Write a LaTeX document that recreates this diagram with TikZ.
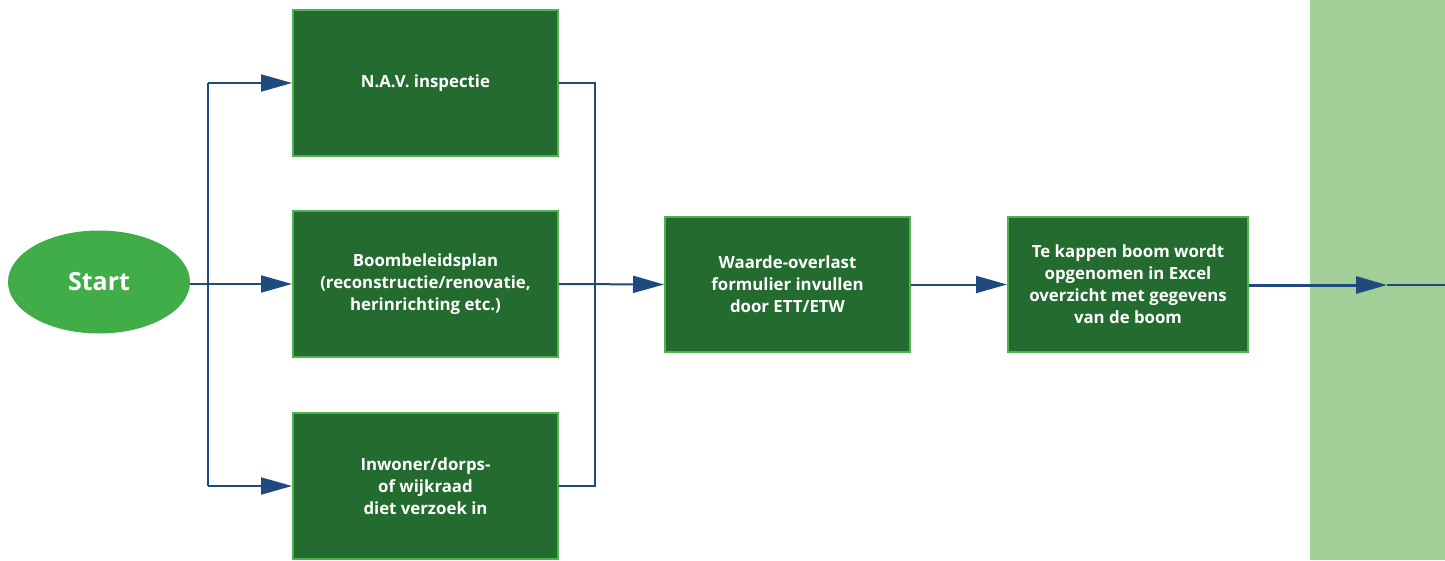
\documentclass[tikz,border=0pt]{standalone}
\usepackage{fontspec}
\setmainfont{Open Sans}
\usetikzlibrary{arrows.meta,shapes.geometric}
\definecolor{boxfill}{HTML}{246B30}
\definecolor{boxline}{HTML}{4DB34F}
\definecolor{startfill}{HTML}{41AD49}
\definecolor{lightpanel}{HTML}{A2CF98}
\definecolor{conn}{HTML}{1F4A7E}
\tikzset{
  stepbox/.style={draw=boxline, line width=2pt, fill=boxfill, text=white,
    font=\bfseries\fontsize{16.8}{22}\selectfont, align=center, inner sep=0pt},
  startnode/.style={ellipse, fill=startfill, text=white, draw=none,
    minimum width=182pt, minimum height=103pt, inner sep=0pt,
    font=\bfseries\fontsize{25}{30}\selectfont},
  conline/.style={draw=conn, line width=2pt},
  arr/.style={conline, -{Triangle[length=31pt,width=17pt]}},
}
\begin{document}
\begin{tikzpicture}[x=1pt,y=-1pt]
\useasboundingbox (0,0) rectangle (1445,560);
\fill[lightpanel] (1310,0) rectangle (1445,560);

\node[startnode] (start) at (99,282) {Start};
\node[stepbox, minimum width=265pt, minimum height=146pt] (b1) at (425.5,83) {N.A.V. inspectie};
\node[stepbox, minimum width=265pt, minimum height=146pt] (b2) at (425.5,284) {Boombeleidsplan\\(reconstructie/renovatie,\\herinrichting etc.)};
\node[stepbox, minimum width=265pt, minimum height=146pt] (b3) at (425.5,486) {Inwoner/dorps-\\of wijkraad\\diet verzoek in};
\node[stepbox, minimum width=245pt, minimum height=135pt] (b4) at (787.5,284.5) {Waarde-overlast\\formulier invullen\\door ETT/ETW};
\node[stepbox, minimum width=240pt, minimum height=135pt] (b5) at (1128,284.5) {Te kappen boom wordt\\opgenomen in Excel\\overzicht met gegevens\\van de boom};

\coordinate (busL) at (208,284);
\coordinate (busR) at (595,284);
\coordinate (pend) at (1387,285);
\coordinate (edge) at (1445,285);

% left bus
\draw[conline] (start.east |- busL) -- (busL);
\draw[conline] (busL |- b1.west) -- (busL |- b3.west);
\draw[arr] (busL |- b1.west) -- (b1.west);
\draw[arr] (busL) -- (b2.west);
\draw[arr] (busL |- b3.west) -- (b3.west);

% right bus
\draw[conline] (b1.east) -- (busR |- b1.east) -- (busR |- b3.east) -- (b3.east);
\draw[arr] (b2.east) -- (b4.west);
\draw[arr] (b4.east) -- (b5.west);
\draw[conn, line width=3pt, -{Triangle[length=31pt,width=17pt]}] (b5.east |- pend) -- (pend);
\draw[conn, line width=2pt] (pend) -- (edge);
\end{tikzpicture}
\end{document}
